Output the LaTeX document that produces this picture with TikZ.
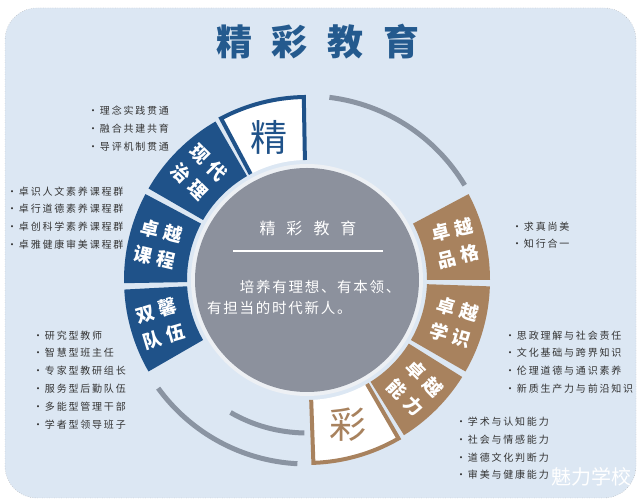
\documentclass[tikz,border=0pt]{standalone}
\usepackage{fontspec}
\setmainfont{Noto Sans CJK SC}
\newfontfamily\cjklist[LetterSpace=18]{Noto Sans CJK SC}
\newfontfamily\cjkhub[LetterSpace=12]{Noto Sans CJK SC}
\newfontfamily\cjkseg[LetterSpace=28]{Noto Sans CJK SC}

\definecolor{panelblue}{HTML}{DCE7F3}
\definecolor{titleblue}{HTML}{245A8E}
\definecolor{navy}{HTML}{1F5289}
\definecolor{bronze}{HTML}{A8825E}
\definecolor{hubgray}{HTML}{8C919D}
\definecolor{arcgray}{HTML}{8A94A2}
\definecolor{ringwhite}{HTML}{EDF0F4}
\definecolor{listtext}{HTML}{333333}

% ring segment between radius 120 and 183, from angle #1 to #2
\newcommand{\ringseg}[2]{([shift={(C)}]#1:120) arc[start angle=#1, end angle=#2, radius=120]
  -- ([shift={(C)}]#2:183) arc[start angle=#2, end angle=#1, radius=183] -- cycle}

\begin{document}
\begin{tikzpicture}[
    x=1pt, y=1pt,
    item/.style={anchor=west, inner sep=0pt, text=listtext, font=\cjklist\fontsize{10}{12}\selectfont},
    segtext/.style={align=center, inner sep=0pt, text=white, font=\cjkseg\bfseries\fontsize{18.5}{27}\selectfont},
    bigchar/.style={inner sep=0pt, font=\fontsize{37}{37}\selectfont},
    grayarc/.style={arcgray, line width=5pt},
    edge/.style={line width=4pt, line join=miter}
]
\useasboundingbox (0,0) rectangle (640,502);
\fill[white] (0,0) rectangle (640,502);

% Panel and title
\draw[fill=panelblue, draw=gray!80, dotted, rounded corners=32pt] (5,4) rectangle (636,494);
\node[text=titleblue, font=\bfseries\fontsize{36}{36}\selectfont] (title) at (318,460) {精\hspace{20pt}彩\hspace{20pt}教\hspace{20pt}育};

\coordinate (C) at (307,222);

% Hub
\fill[ringwhite] (C) circle[radius=116];
\fill[hubgray] (C) circle[radius=112];
\node[text=white, font=\fontsize{16}{16}\selectfont] (hubtitle) at (308,274) {精\hspace{11pt}彩\hspace{11pt}教\hspace{11pt}育};
\draw[white, line width=1.2pt] (233,251) -- (383,251);
\node[anchor=west, align=left, inner sep=0pt, text=white, font=\cjkhub\fontsize{14.5}{21.5}\selectfont] (hubtext) at (207,204.5)
  {\hspace*{32.6pt}培养有理想、有本领、\\有担当的时代新人。};

% Left segments
\fill[white] \ringseg{91}{118};
\draw[navy, edge] ([shift={(C)}]118:120) -- ([shift={(C)}]118:183) arc[start angle=118, end angle=91, radius=183] -- ([shift={(C)}]91:120);
\fill[navy] \ringseg{120}{150};
\fill[navy] \ringseg{152}{181};
\fill[navy] \ringseg{183}{210};
\node[bigchar, text=navy] (jing) at ([shift={(C)}]105:148) {精};
\node[segtext, rotate=-45] (zhili) at ([shift={(C)}]135:153) {现代\\治理};
\node[segtext, rotate=-13.5] (kecheng) at ([shift={(C)}]166.5:153) {卓越\\课程};
\node[segtext, rotate=16.5] (duiwu) at ([shift={(C)}]196.5:153) {双馨\\队伍};

% Right segments
\fill[bronze] \ringseg{0}{28};
\fill[bronze] \ringseg{-30}{-2};
\fill[bronze] \ringseg{-58}{-32};
\fill[white] \ringseg{-88}{-60};
\draw[bronze, edge] ([shift={(C)}]-88:120) -- ([shift={(C)}]-88:183) arc[start angle=-88, end angle=-60, radius=183] -- ([shift={(C)}]-60:120);
\node[segtext, rotate=14] (pinge) at ([shift={(C)}]14:153) {卓越\\品格};
\node[segtext, rotate=-16] (xueshi) at ([shift={(C)}]-16:153) {卓越\\学识};
\node[segtext, rotate=-45] (nengli) at ([shift={(C)}]-45:153) {卓越\\能力};
\node[bigchar, text=bronze] (cai) at ([shift={(C)}]-74:150) {彩};

% Gray arcs
\draw[grayarc] ([shift={(C)}]83:184) arc[start angle=83, end angle=31, radius=184];
\draw[grayarc] ([shift={(C)}]216:184) arc[start angle=216, end angle=267, radius=184];
\draw[grayarc] ([shift={(C)}]240:153) arc[start angle=240, end angle=269, radius=153];

% Lists, left
\node[item] (zl1) at (88,391) {·理念实践贯通};
\node[item] (zl2) at (88,373) {·融合共建共育};
\node[item] (zl3) at (88,355) {·导评机制贯通};

\node[item] (kc1) at (7,310) {·卓识人文素养课程群};
\node[item] (kc2) at (7,293) {·卓行道德素养课程群};
\node[item] (kc3) at (7,275) {·卓创科学素养课程群};
\node[item] (kc4) at (7,257) {·卓雅健康审美课程群};

\node[item] (dw1) at (33,166) {·研究型教师};
\node[item] (dw2) at (33,149) {·智慧型班主任};
\node[item] (dw3) at (33,131) {·专家型教研组长};
\node[item] (dw4) at (33,113) {·服务型后勤队伍};
\node[item] (dw5) at (33,95) {·多能型管理干部};
\node[item] (dw6) at (33,77) {·学者型领导班子};

% Lists, right
\node[item] (pg1) at (512,275) {·求真尚美};
\node[item] (pg2) at (512,258) {·知行合一};

\node[item] (xs1) at (505,166) {·思政理解与社会责任};
\node[item] (xs2) at (505,149) {·文化基础与跨界知识};
\node[item] (xs3) at (505,131) {·伦理道德与通识素养};
\node[item] (xs4) at (505,113) {·新质生产力与前沿知识};

\node[item] (nl1) at (456,80) {·学术与认知能力};
\node[item] (nl2) at (456,62) {·社会与情感能力};
\node[item] (nl3) at (456,44) {·道德文化判断力};
\node[item] (nl4) at (456,27) {·审美与健康能力};

\node[text=white, font=\fontsize{20}{20}\selectfont] (mark) at (591,25) {魅力学校};

\end{tikzpicture}
\end{document}
